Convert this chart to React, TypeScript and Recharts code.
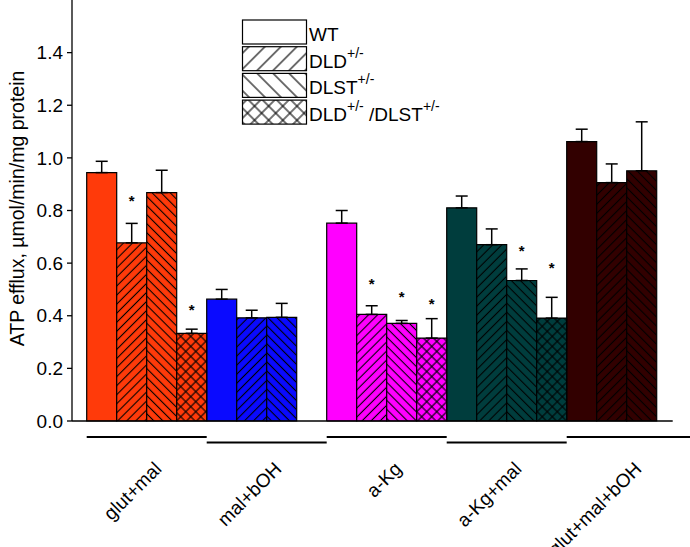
import { BarChart, Bar, XAxis, YAxis, ErrorBar, Cell, LabelList, Label } from 'recharts';

const categories = ['glut+mal', 'mal+bOH', 'a-Kg', 'a-Kg+mal', 'glut+mal+bOH'];

const wt = [0.944, 0.463, 0.752, 0.81, 1.062];
const wtErr = [0.043, 0.037, 0.048, 0.045, 0.047];
const dld = [0.677, 0.392, 0.405, 0.67, 0.906];
const dldErr = [0.074, 0.029, 0.033, 0.06, 0.071];
const dlst = [0.868, 0.394, 0.371, 0.534, 0.951];
const dlstErr = [0.085, 0.053, 0.011, 0.044, 0.186];
const dd = [0.333, null, 0.315, 0.391, null];
const ddErr = [0.016, null, 0.074, 0.079, null];

// where the significance stars sit (in axis units)
const dldStar = [0.848, null, 0.532, null, null];
const dlstStar = [null, null, 0.482, 0.658, null];
const ddStar = [0.434, null, 0.455, 0.591, null];

const yTicks = [0, 0.2, 0.4, 0.6, 0.8, 1.0, 1.2, 1.4];
const Y_MAX = 1.6;

const groupColors = ['#ff3a0a', '#0a0aff', '#ff00ff', '#003d3d', '#320000'];

const FONT = '"Liberation Sans", Arial, sans-serif';
const W = 690;
const H = 547;
const TOP = 0;
const PLOT_LEFT = 72;
const PAD_LEFT = 14.7;
const RIGHT = 3.3;
const BAND = (W - PLOT_LEFT - PAD_LEFT - RIGHT) / categories.length;

const data = categories.map((name, i) => ({
    name,
    wt: wt[i],
    wtErr: [0, wtErr[i]],
    dld: dld[i],
    dldErr: [0, dldErr[i]],
    dlst: dlst[i],
    dlstErr: [0, dlstErr[i]],
    dd: dd[i],
    ddErr: ddErr[i] == null ? null : [0, ddErr[i]],
    dldStar: dldStar[i],
    dlstStar: dlstStar[i],
    ddStar: ddStar[i],
}));

// hatch patterns: kind -> rotation / crossing
const Hatch = ({ id, fill, kind, size }: { id: string; fill: string; kind: string; size: number }) => {
    const rot = kind === 'dlst' ? -45 : 45;
    return (
        <pattern id={id} patternUnits="userSpaceOnUse" width={size} height={size} patternTransform={`rotate(${rot})`}>
            <rect x={0} y={0} width={size} height={size} fill={fill} />
            <line x1={size / 2} y1={0} x2={size / 2} y2={size} stroke="#000" strokeWidth={1.1} />
            {kind === 'dd' && <line x1={0} y1={size / 2} x2={size} y2={size / 2} stroke="#000" strokeWidth={1.1} />}
        </pattern>
    );
};

// star label: bottom of bar is the zero line, plot top is TOP
const StarLabel = (props: any) => {
    const { x, y, width, height, value } = props;
    if (value == null) return null;
    const base = y + height;
    const cy = base - (value / Y_MAX) * (base - TOP);
    return (
        <text x={x + width / 2} y={cy + 8} textAnchor="middle" fontSize={15} fontWeight="bold" fontFamily={FONT} fill="#000">
            *
        </text>
    );
};

const GroupTick = (props: any) => {
    const { x, y, payload, index } = props;
    const last = categories.length - 1;
    const lineY = y + (index % 2 ? 21.5 : 16);
    const right = index === last ? x + BAND / 2 + 4 : x + BAND / 2;
    // baseline piece of this band (axis stops short of the last band's end)
    const axL = index === 0 ? x - BAND / 2 - PAD_LEFT : x - BAND / 2;
    const axR = index === last ? x + BAND / 2 - 14 : x + BAND / 2;
    const tx = x + 16;
    const ty = y + 49;
    return (
        <g>
            <line x1={axL} x2={axR} y1={y} y2={y} stroke="#000" strokeWidth={1.3} />
            <line x1={x - BAND / 2} x2={right} y1={lineY} y2={lineY} stroke="#000" strokeWidth={2} />
            <text
                x={tx}
                y={ty}
                transform={`rotate(-45, ${tx}, ${ty})`}
                textAnchor="end"
                fontSize={19}
                fontFamily={FONT}
                fill="#000"
            >
                {payload.value}
            </text>
        </g>
    );
};

const legendRows = [
    { kind: 'wt', parts: [['WT', false]] },
    { kind: 'dld', parts: [['DLD', false], ['+/-', true]] },
    { kind: 'dlst', parts: [['DLST', false], ['+/-', true]] },
    { kind: 'dd', parts: [['DLD', false], ['+/-', true], [' /DLST', false], ['+/-', true]] },
];

const LegendBox = () => (
    <svg width={W} height={140} style={{ position: 'absolute', left: 0, top: 0, pointerEvents: 'none' }}>
        <defs>
            <Hatch id="lg-dld" fill="#fff" kind="dld" size={11.3} />
            <Hatch id="lg-dlst" fill="#fff" kind="dlst" size={11.3} />
            <Hatch id="lg-dd" fill="#fff" kind="dd" size={10} />
        </defs>
        {legendRows.map((row, i) => {
            const top = 20 + i * 26.7;
            return (
                <g key={row.kind}>
                    <rect
                        x={242.5}
                        y={top}
                        width={64}
                        height={24}
                        fill={row.kind === 'wt' ? '#fff' : `url(#lg-${row.kind})`}
                        stroke="#000"
                        strokeWidth={1.2}
                    />
                    <text x={309} y={top + 21} fontSize={19} fontFamily={FONT} fill="#000">
                        {row.parts.map(([t, sup], k) => {
                            const prevSup = k > 0 && row.parts[k - 1][1];
                            const dy = sup ? -10 : prevSup ? 10 : 0;
                            return (
                                <tspan key={k} dy={dy} fontSize={sup ? 14 : 19}>
                                    {t as string}
                                </tspan>
                            );
                        })}
                    </text>
                </g>
            );
        })}
    </svg>
);

const series = [
    { key: 'wt', err: 'wtErr', star: null },
    { key: 'dld', err: 'dldErr', star: 'dldStar' },
    { key: 'dlst', err: 'dlstErr', star: 'dlstStar' },
    { key: 'dd', err: 'ddErr', star: 'ddStar' },
];

export default function App() {
    return (
        <div style={{ position: 'absolute', left: 0, top: 0, width: W, height: H, background: '#fff', fontFamily: FONT }}>
            <BarChart
                width={W}
                height={H}
                data={data}
                margin={{ top: TOP, right: RIGHT, left: 0, bottom: 0 }}
                barCategoryGap={0}
                barGap={0}
            >
                <defs>
                    {groupColors.map((c, i) =>
                        ['dld', 'dlst', 'dd'].map((k) => (
                            <Hatch key={`${k}-${i}`} id={`p-${k}-${i}`} fill={c} kind={k} size={k === 'dd' ? 7.1 : 6.4} />
                        ))
                    )}
                </defs>
                <XAxis
                    dataKey="name"
                    interval={0}
                    height={126}
                    padding={{ left: PAD_LEFT, right: 0 }}
                    tickLine={false}
                    tickSize={0}
                    tickMargin={0}
                    axisLine={false}
                    tick={<GroupTick />}
                />
                <YAxis
                    width={PLOT_LEFT}
                    domain={[0, Y_MAX]}
                    ticks={yTicks}
                    tickFormatter={(v: number) => v.toFixed(1)}
                    tickSize={5}
                    tickMargin={4}
                    axisLine={{ stroke: '#000', strokeWidth: 1.3 }}
                    tickLine={{ stroke: '#000', strokeWidth: 1.3 }}
                    tick={{ fill: '#000', fontSize: 19, fontFamily: FONT }}
                >
                    <Label
                        content={(p: any) => {
                            const vb = p.viewBox;
                            const cx = vb.x + 17;
                            const cy = vb.y + vb.height / 2 - 2;
                            return (
                                <text
                                    x={cx}
                                    y={cy}
                                    transform={`rotate(-90, ${cx}, ${cy})`}
                                    textAnchor="middle"
                                    dominantBaseline="central"
                                    fontSize={19.5}
                                    fontFamily={FONT}
                                    fill="#000"
                                >
                                    ATP efflux, µmol/min/mg protein
                                </text>
                            );
                        }}
                    />
                </YAxis>
                {series.map((s) => (
                    <Bar key={s.key} dataKey={s.key} isAnimationActive={false} stroke="#000" strokeWidth={1.2}>
                        {categories.map((_, i) => (
                            <Cell key={i} fill={s.key === 'wt' ? groupColors[i] : `url(#p-${s.key}-${i})`} />
                        ))}
                        <ErrorBar dataKey={s.err} width={6} stroke="#000" strokeWidth={1.5} direction="y" />
                        {s.star && <LabelList dataKey={s.star} content={StarLabel} />}
                    </Bar>
                ))}
            </BarChart>
            <LegendBox />
        </div>
    );
}
